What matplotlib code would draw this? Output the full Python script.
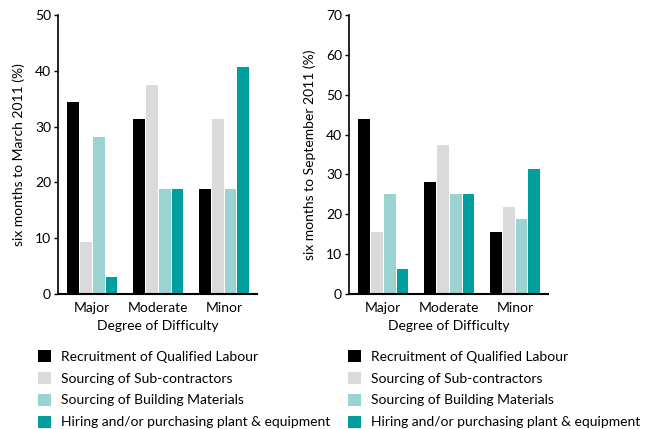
import matplotlib
matplotlib.use("Agg")
import matplotlib.pyplot as plt
from matplotlib.patches import Patch
import numpy as np

plt.rcParams['font.family'] = ['Lato', 'DejaVu Sans']

groups = ["Major", "Moderate", "Minor"]
series = ["Recruitment of Qualified Labour",
          "Sourcing of Sub-contractors",
          "Sourcing of Building Materials",
          "Hiring and/or purchasing plant & equipment"]
colors = ["#000000", "#d9dadb", "#9ad3d1", "#009e9c"]

# values in %, rows = series, cols = groups
march = [[34.4, 31.3, 18.8],
         [9.4, 37.5, 31.3],
         [28.1, 18.8, 18.8],
         [3.1, 18.8, 40.6]]
september = [[43.8, 28.1, 15.6],
             [15.6, 37.5, 21.9],
             [25.0, 25.0, 18.8],
             [6.3, 25.0, 31.3]]

fig = plt.figure(figsize=(6.62, 4.29), dpi=100)
W, H = 662, 429
fs = 10

def panel(left_px, values, ymax, ylabel):
    ax = fig.add_axes([left_px / W, 1 - 294 / H, 199 / W, 279 / H])
    x = np.arange(len(groups))
    for i, (vals, c) in enumerate(zip(values, colors)):
        ax.bar(x + (i - 1.5) * 0.195, vals, width=0.18, color=c, label=series[i])
    ax.set_xlim(-0.52, 2.5)
    ax.set_ylim(0, ymax)
    ax.set_yticks(np.arange(0, ymax + 1, 10))
    ax.set_xticks(x)
    ax.set_xticklabels(groups)
    ax.spines['top'].set_visible(False)
    ax.spines['right'].set_visible(False)
    ax.spines['left'].set_linewidth(1.2)
    ax.spines['bottom'].set_linewidth(1.5)
    ax.tick_params(axis='y', length=3, width=1, labelsize=fs, pad=2)
    ax.tick_params(axis='x', length=0, labelsize=fs, pad=6)
    ax.set_xlabel("Degree of Difficulty", fontsize=fs, labelpad=4)
    ax.set_ylabel(ylabel, fontsize=fs, labelpad=7)
    return ax

panel(58, march, 50, "six months to March 2011 (%)")
panel(349, september, 70, "six months to September 2011 (%)")

handles = [Patch(facecolor=c, edgecolor='none') for c in colors]
for x0 in (38, 348):
    fig.legend(handles, series, loc='upper left',
               bbox_to_anchor=(x0 / W, 1 - 350 / H),
               frameon=False, fontsize=fs, borderpad=0, borderaxespad=0,
               handlelength=0.94, handleheight=0.94, handletextpad=0.72,
               labelspacing=0.66)

fig.savefig("out.png", dpi=100)
